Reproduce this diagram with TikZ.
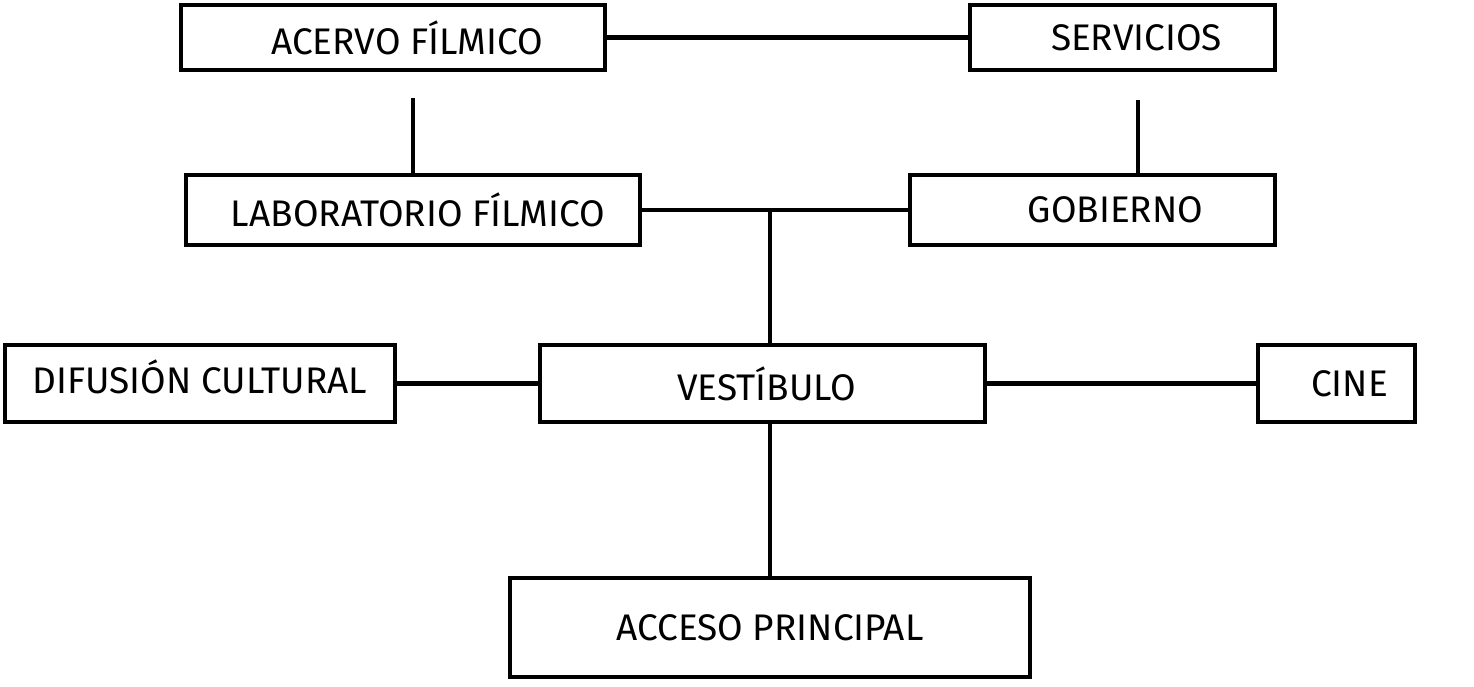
\documentclass[tikz,border=0pt]{standalone}
\usepackage{fontspec}
\setmainfont{Fira Sans}
\begin{document}
\begin{tikzpicture}[x=1pt,y=-1pt,
  box/.style={draw=black, line width=4pt, rectangle, inner sep=0pt,
    font=\fontsize{37}{42}\selectfont},
  link/.style={draw=black, line width=4.5pt}]
\useasboundingbox (0,0) rectangle (1474,687);
\node[box, minimum width=424pt, minimum height=65pt] (acervo) at (393,37.5) {\hspace*{28pt}ACERVO FÍLMICO};
\node[box, minimum width=305pt, minimum height=65pt] (servicios) at (1122.5,37.5) {\hspace*{28pt}SERVICIOS};
\node[box, minimum width=454pt, minimum height=70pt] (lab) at (413,210) {\hspace*{10pt}LABORATORIO FÍLMICO};
\node[box, minimum width=365pt, minimum height=70pt] (gobierno) at (1092.5,210) {\hspace*{46pt}GOBIERNO};
\node[box, minimum width=390pt, minimum height=77pt] (difusion) at (200,383.5) {\raisebox{13pt}{DIFUSIÓN CULTURAL}};
\node[box, minimum width=445pt, minimum height=77pt] (vestibulo) at (762.5,383.5) {\hspace*{8pt}VESTÍBULO};
\node[box, minimum width=157pt, minimum height=77pt] (cine) at (1336.5,383.5) {\hspace*{26pt}CINE};
\node[box, minimum width=520pt, minimum height=99pt] (acceso) at (770,627.5) {ACCESO PRINCIPAL};
\coordinate (j) at (770,210);
\coordinate (a1) at (413,98);
\coordinate (s1) at (1138,100);
\draw[link] (acervo.east) -- (servicios.west);
\draw[link] (a1) -- (lab.north);
\draw[link] (s1) -- (s1 |- gobierno.north);
\draw[link] (lab.east) -- (gobierno.west);
\draw[link] (j) -- (j |- vestibulo.north);
\draw[link] (difusion.east) -- (vestibulo.west);
\draw[link] (vestibulo.east) -- (cine.west);
\draw[link] (acceso.north |- vestibulo.south) -- (acceso.north);
\end{tikzpicture}
\end{document}
